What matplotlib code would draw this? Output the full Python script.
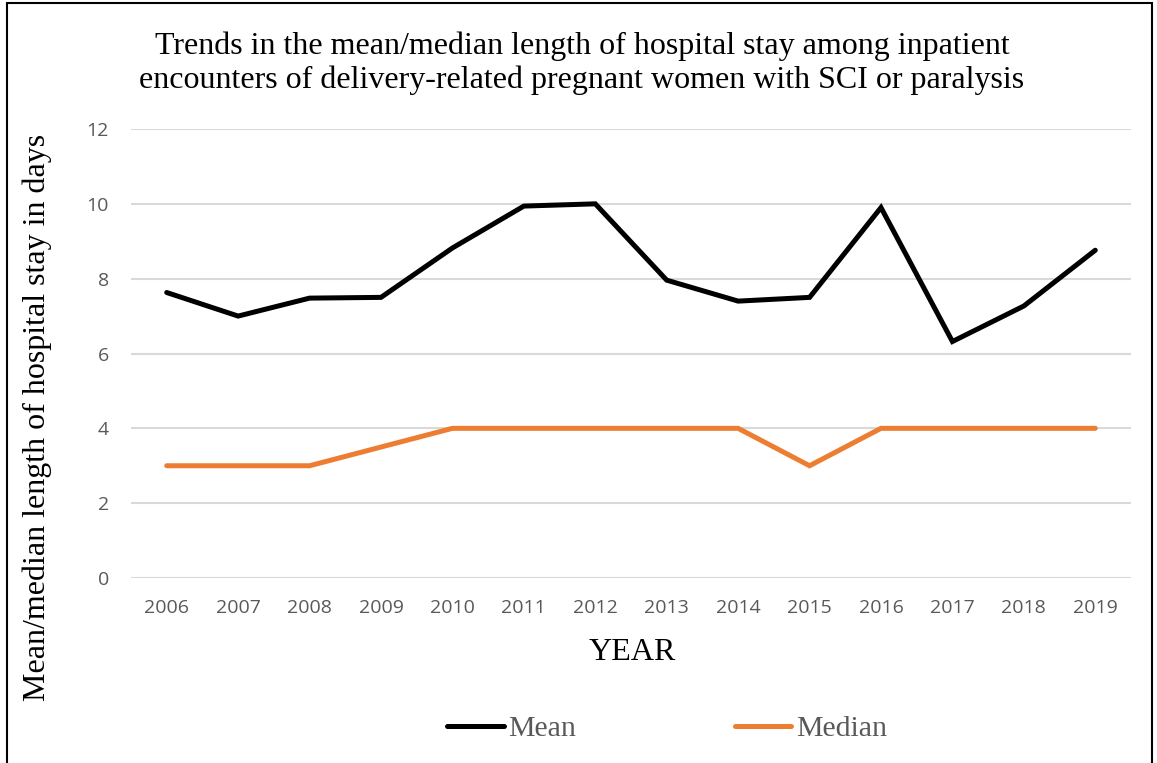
import matplotlib
matplotlib.use("Agg")
import matplotlib.pyplot as plt
from matplotlib.patches import Rectangle

years = ["2006", "2007", "2008", "2009", "2010", "2011", "2012",
         "2013", "2014", "2015", "2016", "2017", "2018", "2019"]
mean_los = [7.63, 7.0, 7.48, 7.5, 8.82, 9.94, 10.0,
            7.96, 7.4, 7.5, 9.9, 6.32, 7.27, 8.76]
median_los = [3, 3, 3, 3.5, 4, 4, 4, 4, 4, 3, 4, 4, 4, 4]
y_ticks = [0, 2, 4, 6, 8, 10, 12]

W, H = 1157, 763
fig = plt.figure(figsize=(W / 100, H / 100), dpi=100)
serif = ["Liberation Serif", "DejaVu Serif"]
sans = ["Open Sans", "DejaVu Sans"]
grey = "#595959"

ax = fig.add_axes([131 / W, 1 - 578 / H, 1000 / W, 449 / H])
x = list(range(len(years)))
ax.plot(x, mean_los, color="black", lw=3.6, label="Mean",
        solid_joinstyle="miter", solid_capstyle="round")
ax.plot(x, median_los, color="#ED7D31", lw=3.6, label="Median",
        solid_joinstyle="miter", solid_capstyle="round")

ax.set_xlim(-0.5, len(years) - 0.5)
ax.set_ylim(0, 12)
ax.set_xticks(x)
ax.set_xticklabels(years, family=sans, fontsize=14, color=grey)
ax.set_yticks(y_ticks)
ax.set_yticklabels([str(v) for v in y_ticks], family=sans, fontsize=14, color=grey)
ax.tick_params(axis="both", length=0)
ax.tick_params(axis="x", pad=15)
ax.tick_params(axis="y", pad=16)
ax.grid(axis="y", color="#D9D9D9", lw=1.5)
ax.set_axisbelow(True)
for s in ax.spines.values():
    s.set_visible(False)

fig.text(582 / W, 1 - 63 / H,
         "Trends in the mean/median length of hospital stay among inpatient\n"
         "encounters of delivery-related pregnant women with SCI or paralysis",
         ha="center", va="center", family=serif, fontsize=23, linespacing=1.19)
fig.text(632 / W, 1 - 652 / H, "YEAR", ha="center", va="center",
         family=serif, fontsize=23)
fig.text(37 / W, 1 - 417 / H, "Mean/median length of hospital stay in days",
         ha="center", va="center", rotation=90, family=serif, fontsize=23)

leg = fig.legend(loc="center", bbox_to_anchor=(667 / W, 1 - 729 / H), ncol=2,
                 frameon=False, handlelength=1.9, handletextpad=0.15,
                 columnspacing=5.3, prop={"family": serif, "size": 21.5})
for t in leg.get_texts():
    t.set_color(grey)

fig.patches.append(Rectangle((7 / W, -0.05), (1152 - 7) / W, 1.05 - 3 / H,
                             transform=fig.transFigure, fill=False,
                             edgecolor="black", lw=1.5))

fig.savefig("out.png", dpi=100)
